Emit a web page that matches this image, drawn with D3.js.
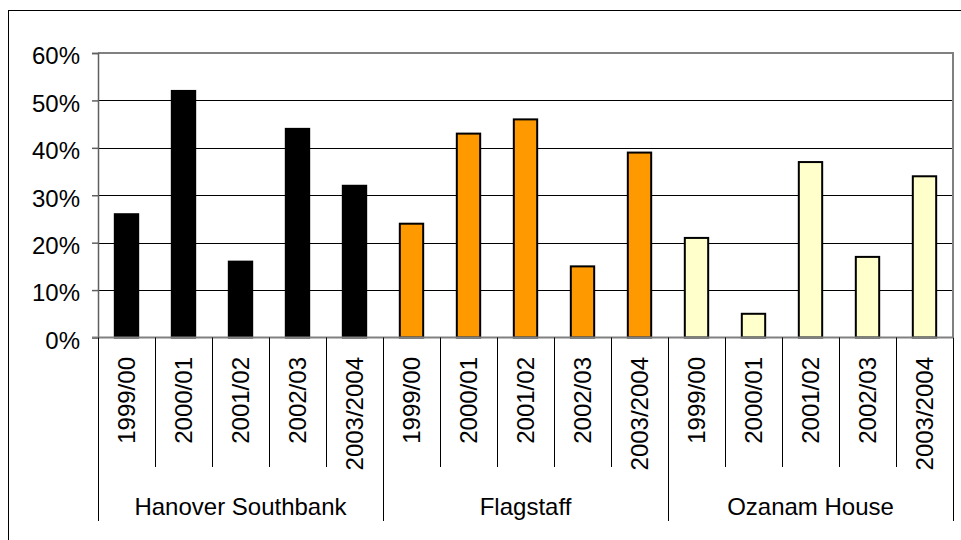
<!DOCTYPE html>
<html>
<head>
<meta charset="utf-8">
<script src="https://cdn.jsdelivr.net/npm/d3@7"></script>
<style>
  html, body { margin: 0; padding: 0; background: #fff; }
  svg { display: block; }
  text { font-family: "Liberation Sans", Arial, sans-serif; fill: #000; }
</style>
</head>
<body>
<svg id="chart" width="961" height="540"></svg>
<script>
const groups = ["Hanover Southbank", "Flagstaff", "Ozanam House"];
const years = ["1999/00", "2000/01", "2001/02", "2002/03", "2003/2004"];
const hanoverValues = [0.26, 0.52, 0.16, 0.44, 0.32];
const flagstaffValues = [0.24, 0.43, 0.46, 0.15, 0.39];
const ozanamValues = [0.21, 0.05, 0.37, 0.17, 0.34];
const groupColors = ["#000000", "#FF9900", "#FFFFCC"];
const yTicks = [0, 0.1, 0.2, 0.3, 0.4, 0.5, 0.6];

(function () {
const FS = 24;
const seriesValues = [hanoverValues, flagstaffValues, ozanamValues];
const data = [];
groups.forEach((g, gi) => {
  years.forEach((yr, yi) => {
    data.push({ key: gi + "|" + yi, group: g, gi, year: yr, value: seriesValues[gi][yi] });
  });
});

const svg = d3.select("#chart");
const pLeft = 98, pRight = 953, pTop = 53, pBottom = 337.5;

// outer chart border (only top & left visible)
svg.append("rect").attr("x", 8.5).attr("y", 10.5).attr("width", 1000).attr("height", 1000)
  .attr("fill", "none").attr("stroke", "#000").attr("stroke-width", 1);

const x = d3.scaleBand().domain(data.map(d => d.key)).range([pLeft, pRight]).padding(0);
const y = d3.scaleLinear().domain([0, 0.6]).range([pBottom, pTop]);

// gridlines
svg.append("g").selectAll("line").data(yTicks.filter(t => t > 0 && t < 0.6)).join("line")
  .attr("x1", pLeft).attr("x2", pRight)
  .attr("y1", d => Math.round(y(d)) + 0.5).attr("y2", d => Math.round(y(d)) + 0.5)
  .attr("stroke", "#000").attr("stroke-width", 1);

// plot area border top/right (grey)
svg.append("line").attr("x1", pLeft).attr("x2", pRight + 1).attr("y1", pTop).attr("y2", pTop)
  .attr("stroke", "#808080").attr("stroke-width", 2);
svg.append("line").attr("x1", pRight).attr("x2", pRight).attr("y1", pTop).attr("y2", pBottom)
  .attr("stroke", "#808080").attr("stroke-width", 2);

// bars
const bw = x.bandwidth() * 0.41;
svg.append("g").selectAll("rect").data(data).join("rect")
  .attr("x", d => x(d.key) + (x.bandwidth() - bw) / 2)
  .attr("y", d => y(d.value))
  .attr("width", bw)
  .attr("height", d => y(0) - y(d.value))
  .attr("fill", d => groupColors[d.gi])
  .attr("stroke", "#000").attr("stroke-width", 2);

// y axis
const yAxis = d3.axisLeft(y).tickValues(yTicks).tickFormat(d3.format(".0%")).tickSize(6).tickPadding(12);
const ya = svg.append("g").attr("transform", `translate(${pLeft},0)`).call(yAxis);
ya.select(".domain").attr("stroke", "#606060").attr("stroke-width", 1.5);
ya.selectAll(".tick line").attr("stroke", "#606060").attr("stroke-width", 1.5);
ya.selectAll(".tick text").attr("font-size", FS).attr("font-family", "Liberation Sans, Arial, sans-serif")
  .attr("fill", "#000").attr("dy", "0.45em");

// x axis baseline
svg.append("line").attr("x1", pLeft - 6).attr("x2", pRight).attr("y1", pBottom).attr("y2", pBottom)
  .attr("stroke", "#808080").attr("stroke-width", 2);

// category dividers
const bounds = d3.range(data.length + 1);
svg.append("g").selectAll("line").data(bounds).join("line")
  .attr("x1", i => Math.round(pLeft + i * x.step()) + 0.5)
  .attr("x2", i => Math.round(pLeft + i * x.step()) + 0.5)
  .attr("y1", pBottom)
  .attr("y2", i => (i % years.length === 0) ? 521 : 467)
  .attr("stroke", "#000").attr("stroke-width", 1);

// year labels
svg.append("g").selectAll("text").data(data).join("text")
  .attr("transform", d => `translate(${x(d.key) + x.bandwidth() / 2},357) rotate(-90)`)
  .attr("text-anchor", "end")
  .attr("dy", "0.36em")
  .attr("font-size", FS)
  .text(d => d.year);

// group labels
svg.append("g").selectAll("text").data(groups).join("text")
  .attr("x", (g, gi) => pLeft + (gi + 0.5) * years.length * x.step())
  .attr("y", 515)
  .attr("text-anchor", "middle")
  .attr("font-size", FS)
  .text(g => g);
})();
</script>
</body>
</html>
